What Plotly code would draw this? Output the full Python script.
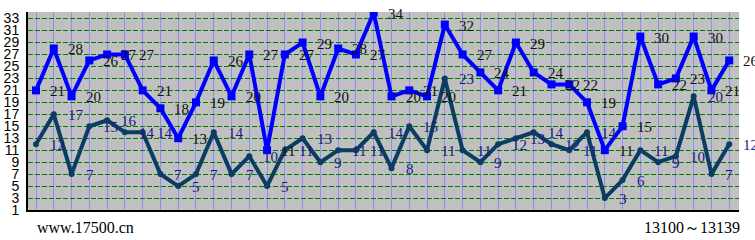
import plotly.graph_objects as go

issues = list(range(13100, 13140))
blue_vals = [21, 28, 20, 26, 27, 27, 21, 18, 13, 19, 26, 20, 27, 11, 27, 29, 20, 28, 27, 34,
             20, 21, 20, 32, 27, 24, 21, 29, 24, 22, 22, 19, 11, 15, 30, 22, 23, 30, 21, 26]
dark_vals = [12, 17, 7, 15, 16, 14, 14, 7, 5, 7, 14, 7, 10, 5, 11, 13, 9, 11, 11, 14,
             8, 15, 11, 23, 11, 9, 12, 13, 14, 12, 11, 14, 3, 6, 11, 9, 10, 20, 7, 12]
y_ticks = list(range(1, 34, 2))

BLUE = "#0000FF"
DARK = "#0B3D62"
xs = list(range(len(issues)))

fig = go.Figure()
fig.add_trace(go.Scatter(x=xs, y=dark_vals, mode="lines+markers",
                         line=dict(color=DARK, width=4),
                         marker=dict(color=DARK, size=6, symbol="circle"),
                         hoverinfo="skip"))
fig.add_trace(go.Scatter(x=xs, y=blue_vals, mode="lines+markers",
                         line=dict(color=BLUE, width=4),
                         marker=dict(color=BLUE, size=8, symbol="square"),
                         hoverinfo="skip"))

LABEL_FONT = "Liberation Serif"
for i, v in zip(xs, blue_vals):
    fig.add_annotation(x=i, y=v, text=str(v), showarrow=False, xanchor="left",
                       yanchor="middle", xshift=12, yshift=-1,
                       font=dict(family=LABEL_FONT, size=15, color="#111111"))
for i, v in zip(xs, dark_vals):
    fig.add_annotation(x=i, y=v, text=str(v), showarrow=False, xanchor="left",
                       yanchor="middle", xshift=12, yshift=-1,
                       font=dict(family=LABEL_FONT, size=15, color="#1A1A80"))

fig.add_annotation(xref="paper", yref="paper", x=0.010, y=-0.09, text="www.17500.cn",
                   showarrow=False, xanchor="left", yanchor="middle",
                   font=dict(family="Liberation Serif", size=16, color="#000000"))
fig.add_annotation(xref="paper", yref="paper", x=1.004, y=-0.09, text="13100～13139",
                   showarrow=False, xanchor="right", yanchor="middle",
                   font=dict(family="Liberation Serif", size=16, color="#000000"))

fig.update_layout(
    width=755, height=240,
    margin=dict(l=28, r=16, t=12, b=30, autoexpand=False),
    paper_bgcolor="#FFFFFF",
    plot_bgcolor="#C0C0C0",
    showlegend=False,
    xaxis=dict(range=[-0.45, 39.55], tickvals=xs, showticklabels=False,
               showgrid=True, gridcolor="#8C8CFF", gridwidth=1, zeroline=False,
               showline=True, linecolor="#000000", linewidth=2, ticks="",
               automargin=False),
    yaxis=dict(range=[1, 34.1], tickvals=y_ticks, ticktext=[str(t) for t in y_ticks],
               showgrid=True, gridcolor="#007A00", gridwidth=1, griddash="5px,2px",
               zeroline=False, showline=True, linecolor="#000000", linewidth=2,
               ticks="", ticklabelstandoff=4, automargin=False,
               tickfont=dict(family="Liberation Sans Narrow, Liberation Sans, Arial", size=14,
                             color="#000000")),
)

fig.write_html("out.html")
